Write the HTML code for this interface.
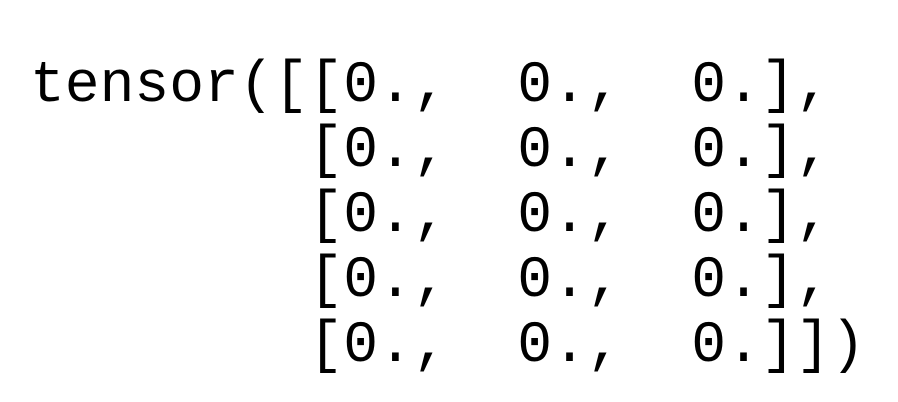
<!DOCTYPE html>
<html><head><meta charset="utf-8"><style>
html,body{margin:0;padding:0;background:#fff;width:898px;height:402px;overflow:hidden}
svg{display:block}
text{font-family:"Liberation Mono",monospace;font-size:58px;fill:#000;white-space:pre}
</style></head><body>
<svg width="898" height="402" xmlns="http://www.w3.org/2000/svg" xml:space="preserve">
<text x="30" y="101">tensor([[0.,  0.,  0.],</text>
<text x="30" y="166">        [0.,  0.,  0.],</text>
<text x="30" y="231">        [0.,  0.,  0.],</text>
<text x="30" y="296">        [0.,  0.,  0.],</text>
<text x="30" y="361">        [0.,  0.,  0.]])</text>
</svg>
</body></html>
